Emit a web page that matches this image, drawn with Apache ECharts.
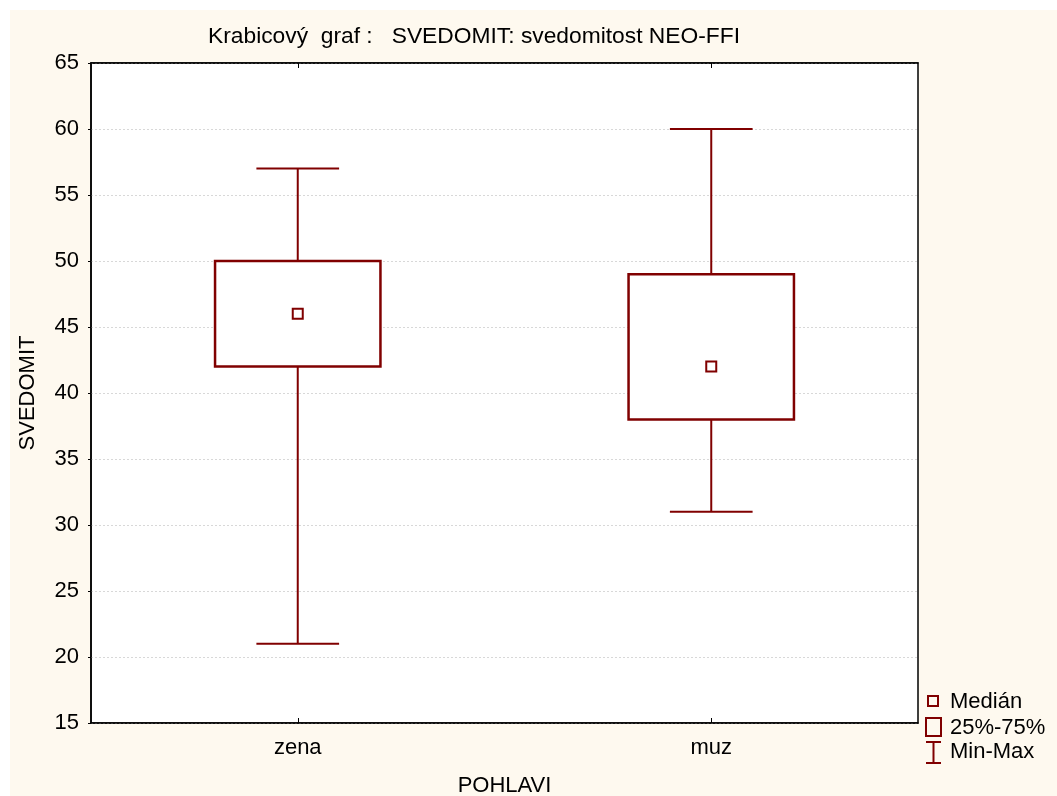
<!DOCTYPE html>
<html>
<head>
<meta charset="utf-8">
<script src="https://cdn.jsdelivr.net/npm/echarts@6/dist/echarts.min.js"></script>
<style>
  html, body { margin: 0; padding: 0; background: #ffffff; }
  #bg { position: absolute; left: 10px; top: 10px; width: 1047px; height: 786px; background: #FEF9EF; }
  #chart { position: absolute; left: 0; top: 0; width: 1057px; height: 796px; }
</style>
</head>
<body>
<div id="bg"></div>
<div id="chart"></div>
<script>
// ---- data ----
const categories = ['zena', 'muz'];
const minVals = [21, 31];
const q1Vals = [42, 38];
const medianVals = [46, 42];
const q3Vals = [50, 49];
const maxVals = [57, 60];
const yTicks = { min: 15, max: 65, interval: 5 };
const titleText = 'Krabicový  graf :   SVEDOMIT: svedomitost NEO-FFI';
const legendLabels = ['Medián', '25%-75%', 'Min-Max'];

const RED = '#800000';
const FONT = 'Liberation Sans, Arial, sans-serif';
const FS = 22;

const boxData = categories.map((c, i) => [i, minVals[i], q1Vals[i], medianVals[i], q3Vals[i], maxVals[i]]);

const chart = echarts.init(document.getElementById('chart'), null, { renderer: 'canvas' });

function renderBox(params, api) {
  const idx = api.value(0);
  const bandW = api.size([1, 0])[0];
  const boxW = bandW * 0.4;
  const capW = boxW / 2;
  const pMin = api.coord([idx, api.value(1)]);
  const pQ1 = api.coord([idx, api.value(2)]);
  const pMed = api.coord([idx, api.value(3)]);
  const pQ3 = api.coord([idx, api.value(4)]);
  const pMax = api.coord([idx, api.value(5)]);
  const cx = pMed[0];
  const wStyle = { stroke: RED, lineWidth: 2, fill: null };
  return {
    type: 'group',
    children: [
      { type: 'line', shape: { x1: cx, y1: pMax[1], x2: cx, y2: pQ3[1] }, style: wStyle },
      { type: 'line', shape: { x1: cx, y1: pQ1[1], x2: cx, y2: pMin[1] }, style: wStyle },
      { type: 'line', shape: { x1: cx - capW / 2, y1: pMax[1], x2: cx + capW / 2, y2: pMax[1] }, style: wStyle },
      { type: 'line', shape: { x1: cx - capW / 2, y1: pMin[1], x2: cx + capW / 2, y2: pMin[1] }, style: wStyle },
      { type: 'rect', shape: { x: cx - boxW / 2, y: pQ3[1], width: boxW, height: pQ1[1] - pQ3[1] },
        style: { stroke: RED, lineWidth: 2.5, fill: '#ffffff' } },
      { type: 'rect', shape: { x: cx - 5, y: pMed[1] - 5, width: 10, height: 10 },
        style: { stroke: RED, lineWidth: 2, fill: '#ffffff' } }
    ]
  };
}

const option = {
  animation: false,
  grid: {
    left: 91, top: 63, right: 139, bottom: 73,
    outerBoundsMode: 'none',
    containLabel: false,
    show: true, backgroundColor: '#ffffff', borderColor: '#000', borderWidth: 1.5
  },
  xAxis: [
    {
      type: 'category',
      data: categories,
      position: 'bottom',
      name: 'POHLAVI',
      nameLocation: 'middle',
      nameGap: 52,
      nameTextStyle: { fontFamily: FONT, fontSize: FS, color: '#000' },
      axisLine: { show: true, lineStyle: { color: '#000', width: 1.5 } },
      axisTick: { show: true, inside: true, length: 5, alignWithLabel: true, lineStyle: { color: '#000', width: 1 } },
      axisLabel: { fontFamily: FONT, fontSize: FS, color: '#000', margin: 14 },
      splitLine: { show: false }
    },
    {
      type: 'category',
      data: categories,
      position: 'top',
      axisLine: { show: true, lineStyle: { color: '#000', width: 1.5 } },
      axisTick: { show: true, inside: true, length: 5, alignWithLabel: true, lineStyle: { color: '#000', width: 1 } },
      axisLabel: { show: false },
      splitLine: { show: false }
    }
  ],
  yAxis: {
    type: 'value',
    min: yTicks.min,
    max: yTicks.max,
    interval: yTicks.interval,
    name: 'SVEDOMIT',
    nameLocation: 'middle',
    nameGap: 52,
    nameTextStyle: { fontFamily: FONT, fontSize: FS, color: '#000' },
    axisLine: { show: true, lineStyle: { color: '#000', width: 1.5 } },
    axisTick: { show: true, inside: false, length: 3, lineStyle: { color: '#000', width: 1 } },
    axisLabel: { fontFamily: FONT, fontSize: FS, color: '#000', margin: 12 },
    splitLine: { show: true, lineStyle: { color: '#d8d8d8', width: 1, type: [2, 2] } }
  },
  series: [
    {
      type: 'custom',
      name: 'box',
      renderItem: renderBox,
      data: boxData,
      encode: { x: 0, y: [1, 2, 3, 4, 5] },
      z: 5
    }
  ],
  graphic: [
    { type: 'text', x: 474, y: 37, style: { text: titleText, font: '22.8px ' + FONT, fill: '#000', align: 'center', verticalAlign: 'middle' } },
    { type: 'rect', x: 928, y: 696, shape: { width: 10, height: 10 },
      style: { stroke: RED, lineWidth: 2, fill: null } },
    { type: 'text', x: 950, y: 702, style: { text: legendLabels[0], font: FS + 'px ' + FONT, fill: '#000', verticalAlign: 'middle' } },
    { type: 'rect', x: 926, y: 718, shape: { width: 15, height: 18 },
      style: { stroke: RED, lineWidth: 2, fill: null } },
    { type: 'text', x: 950, y: 728, style: { text: legendLabels[1], font: FS + 'px ' + FONT, fill: '#000', verticalAlign: 'middle' } },
    { type: 'group', x: 926, y: 742, children: [
      { type: 'line', shape: { x1: 0, y1: 0, x2: 15, y2: 0 }, style: { stroke: RED, lineWidth: 2 } },
      { type: 'line', shape: { x1: 7.5, y1: 0, x2: 7.5, y2: 21 }, style: { stroke: RED, lineWidth: 2 } },
      { type: 'line', shape: { x1: 0, y1: 21, x2: 15, y2: 21 }, style: { stroke: RED, lineWidth: 2 } }
    ] },
    { type: 'text', x: 950, y: 752, style: { text: legendLabels[2], font: FS + 'px ' + FONT, fill: '#000', verticalAlign: 'middle' } }
  ]
};

chart.setOption(option);
</script>
</body>
</html>
